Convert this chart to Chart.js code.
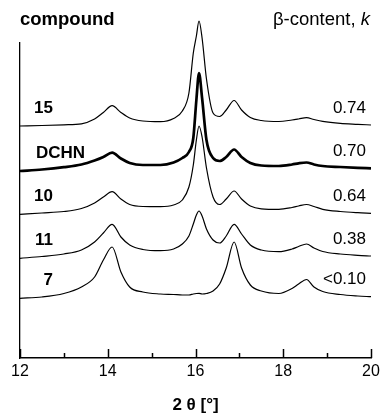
<!DOCTYPE html>
<html>
<head>
<meta charset="utf-8">
<script src="https://cdn.jsdelivr.net/npm/chart.js@4"></script>
<style>
  html, body { margin: 0; padding: 0; background: #fff; }
  #wrap { width: 382px; height: 417px; }
</style>
</head>
<body>
<div id="wrap"><canvas id="myChart" width="382" height="417"></canvas></div>
<script>
// 2-theta positions (deg) where the traces were read
const theta = [12.0, 12.5, 13.0, 13.4, 13.7, 13.9, 14.1, 14.3, 14.5, 14.8, 15.2, 15.5, 15.7, 15.85, 15.95, 16.02, 16.08, 16.15, 16.25, 16.4, 16.55, 16.7, 16.88, 17.05, 17.25, 17.5, 17.9, 18.2, 18.35, 18.53, 18.7, 18.9, 19.3, 19.7, 20.0];

// intensities (arbitrary units, stacked offsets included)
const int15 = [232, 232.5, 233.2, 234.2, 239, 245.5, 252.3, 245.5, 240, 237, 236.3, 239.5, 247, 265, 305, 322, 337, 320, 279, 245, 241.5, 248, 257.5, 248, 240.5, 237.5, 236.5, 238, 239, 240.3, 238.5, 236.7, 234.7, 233.7, 233];
const intDCHN = [187, 188.5, 190.8, 193.5, 197.5, 201, 205.3, 199.5, 195, 193, 193, 195.5, 200, 206, 220, 258, 285, 260, 218, 200, 197, 201, 208.5, 201, 195, 192.5, 192, 193.5, 194.7, 195.5, 193.5, 192, 191, 190.2, 189.7];
const int10 = [143.7, 145, 146.5, 149.5, 155, 161, 166.3, 159, 153.5, 151.5, 151.3, 153, 158, 171, 193, 218, 232, 221, 190, 161, 153.5, 159, 167, 159, 152, 149.2, 148.7, 150.5, 152, 153.5, 151.5, 148.7, 146.5, 145.3, 144.7];
const int11 = [99.7, 101.5, 104, 108, 116, 125, 133.7, 121, 113, 108.5, 107.3, 109, 114, 122, 134, 143, 147, 142, 129, 118, 115, 122, 133.7, 124, 113, 108, 106.3, 109, 111.5, 114, 110, 106.5, 104, 102.7, 102];
const int7 = [59.7, 61, 64.5, 71, 81, 98, 111, 86, 71, 66, 64, 63.5, 63, 63, 64, 64.5, 64.7, 64, 64.5, 67, 74, 90, 116, 90, 73, 67, 64.5, 69.5, 74, 78.5, 71, 66.5, 63.5, 62, 61.3];

const compounds = ["15", "DCHN", "10", "11", "7"];
const kValues = ["0.74", "0.70", "0.64", "0.38", "<0.10"];
const series = [int15, intDCHN, int10, int11, int7];
const lineWidths = [1.2, 2.7, 1.2, 1.2, 1.2];

const xTicks = [12, 14, 16, 18, 20];

const FONT = "'Liberation Sans', Arial, sans-serif";

// labels, headers and inward x ticks
const annotate = {
  id: "annotate",
  afterDraw(chart) {
    const ctx = chart.ctx;
    const x = chart.scales.x;
    const y = chart.scales.y;
    const area = chart.chartArea;
    ctx.save();

    // inward ticks, minor every degree
    ctx.strokeStyle = "#000";
    ctx.lineWidth = 1.5;
    for (let v = 12; v <= 20; v++) {
      const px = Math.round(x.getPixelForValue(v)) + 0.5;
      const len = v % 2 === 0 ? 9 : 5;
      ctx.beginPath();
      ctx.moveTo(px, area.bottom);
      ctx.lineTo(px, area.bottom - len);
      ctx.stroke();
    }

    ctx.fillStyle = "#000";
    ctx.textBaseline = "middle";

    // header texts
    ctx.font = "bold 18.5px " + FONT;
    ctx.textAlign = "left";
    ctx.fillText("compound", area.left, 20);

    ctx.font = "italic 18.5px " + FONT;
    const kw = ctx.measureText("k").width;
    ctx.textAlign = "right";
    ctx.fillText("k", area.right - 1, 20);
    ctx.font = "18.5px " + FONT;
    ctx.fillText("\u03b2-content, ", area.right - 1 - kw, 20);

    // compound names and k values beside each trace
    series.forEach((s, i) => {
      const yl = y.getPixelForValue(s[0]) - 18;
      const yr = y.getPixelForValue(s[s.length - 1]) - 17;
      ctx.font = "bold 17px " + FONT;
      const w = ctx.measureText(compounds[i]).width;
      if (w > 25) {
        ctx.textAlign = "left";
        ctx.fillText(compounds[i], area.left + 16, yl);
      } else {
        ctx.textAlign = "right";
        ctx.fillText(compounds[i], area.left + 33, yl);
      }
      ctx.font = "17px " + FONT;
      ctx.textAlign = "right";
      ctx.fillText(kValues[i], area.right - 5, yr);
    });
    ctx.restore();
  }
};

const ctx = document.getElementById("myChart").getContext("2d");
const chart = new Chart(ctx, {
  type: "line",
  data: {
    datasets: series.map((s, i) => ({
      label: compounds[i],
      data: theta.map((t, j) => ({ x: t, y: s[j] })),
      borderColor: "#000",
      borderWidth: lineWidths[i],
      pointRadius: 0,
      fill: false,
      cubicInterpolationMode: "monotone",
      clip: false
    }))
  },
  options: {
    responsive: false,
    animation: false,
    events: [],
    layout: { padding: { left: 20, right: 11, top: 43, bottom: 0 } },
    plugins: {
      legend: { display: false },
      tooltip: { enabled: false }
    },
    scales: {
      x: {
        type: "linear",
        min: 12,
        max: 20,
        afterBuildTicks: (scale) => { scale.ticks = xTicks.map(v => ({ value: v })); },
        grid: { display: false, drawTicks: false },
        border: { display: true, color: "#000", width: 1.5 },
        ticks: { color: "#000", padding: 2, maxRotation: 0, font: { family: FONT, size: 16, lineHeight: 1.5 } },
        title: {
          display: true,
          text: "2 \u03b8 [\u00b0]",
          color: "#000",
          font: { family: FONT, size: 17, weight: "bold" },
          padding: { top: 8.8, bottom: 1.8 }
        }
      },
      y: {
        min: 0,
        max: 315,
        ticks: { display: false },
        grid: { display: false, drawTicks: false },
        border: { display: true, color: "#000", width: 1.3 }
      }
    }
  },
  plugins: [annotate]
});
</script>
</body>
</html>
